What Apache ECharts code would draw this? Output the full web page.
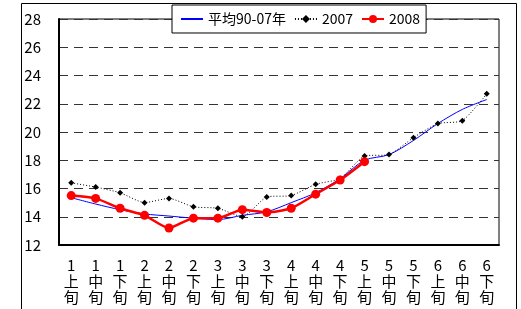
<!DOCTYPE html>
<html>
<head>
<meta charset="utf-8">
<script src="https://cdn.jsdelivr.net/npm/echarts@6/dist/echarts.min.js"></script>
<style>
  html,body{margin:0;padding:0;background:#fff;}
  #chart{width:521px;height:309px;}
</style>
</head>
<body>
<div id="chart"></div>
<script>
(function(echarts){
  // 旬ごとのカテゴリ
  var categories = ['1上旬','1中旬','1下旬','2上旬','2中旬','2下旬','3上旬','3中旬','3下旬',
                    '4上旬','4中旬','4下旬','5上旬','5中旬','5下旬','6上旬','6中旬','6下旬'];

  // 平均90-07年
  var avgData = [15.35,14.9,14.5,14.2,14.05,13.9,13.8,14.1,14.35,15.0,15.7,16.7,18.0,18.4,19.4,20.6,21.6,22.3];
  // 2007
  var y2007 = [16.4,16.1,15.7,15.0,15.3,14.7,14.6,14.0,15.4,15.5,16.3,16.7,18.3,18.4,19.6,20.6,20.8,22.7];
  // 2008
  var y2008 = [15.5,15.3,14.6,14.1,13.2,13.9,13.9,14.5,14.3,14.6,15.6,16.6,17.9,null,null,null,null,null];

  var font = '"Noto Sans CJK JP", "Noto Sans", sans-serif';

  var option = {
    animation: false,
    backgroundColor: '#fff',
    textStyle: { fontFamily: font },
    graphic: [
      {
        type: 'rect',
        shape: { x: 21.5, y: 3.5, width: 495, height: 320 },
        style: { fill: 'none', stroke: '#000', lineWidth: 1 },
        z: -1
      }
    ],
    grid: {
      left: 59, top: 19, right: 22, bottom: 64,
      show: true, borderColor: '#000', borderWidth: 1
    },
    legend: {
      left: 172, top: 5,
      padding: [7, 6, 7, 8],
      backgroundColor: '#fff',
      borderColor: '#000',
      borderWidth: 1,
      itemWidth: 22, itemHeight: 10, itemGap: 8,
      textStyle: { fontSize: 14, color: '#000', fontFamily: font },
      data: [
        { name: '平均90-07年', itemStyle: { opacity: 0 } },
        { name: '2007' },
        { name: '2008' }
      ]
    },
    xAxis: {
      type: 'category',
      data: categories,
      boundaryGap: true,
      axisLine: { lineStyle: { color: '#000', width: 2 } },
      axisTick: { inside: true, length: 5, lineStyle: { color: '#000' } },
      axisLabel: {
        interval: 0, margin: 12, color: '#000', fontSize: 15, lineHeight: 16,
        fontFamily: font,
        formatter: function(v){ return v.split('').join('\n'); }
      }
    },
    yAxis: {
      type: 'value',
      min: 12, max: 28, interval: 2,
      axisLine: { show: true, lineStyle: { color: '#000', width: 2 } },
      axisTick: { show: false },
      axisLabel: { margin: 18, color: '#000', fontSize: 15, fontFamily: font },
      splitLine: { lineStyle: { color: '#333', type: [9, 6], width: 1 } }
    },
    series: [
      {
        name: '平均90-07年', type: 'line', data: avgData,
        smooth: 0.3, symbol: 'none',
        lineStyle: { color: '#0000ff', width: 1 },
        itemStyle: { color: '#0000ff' }
      },
      {
        name: '2007', type: 'line', data: y2007,
        smooth: 0.2, symbol: 'diamond', symbolSize: 6,
        lineStyle: { color: '#000', width: 1, type: [1, 2] },
        itemStyle: { color: '#000' }
      },
      {
        name: '2008', type: 'line', data: y2008,
        smooth: 0.2, symbol: 'circle', symbolSize: 9,
        lineStyle: { color: '#ff0000', width: 2.5 },
        itemStyle: { color: '#ff0000' }
      }
    ]
  };

  var myChart = echarts.init(document.getElementById('chart'));
  myChart.setOption(option);
})(echarts);
</script>
</body>
</html>
